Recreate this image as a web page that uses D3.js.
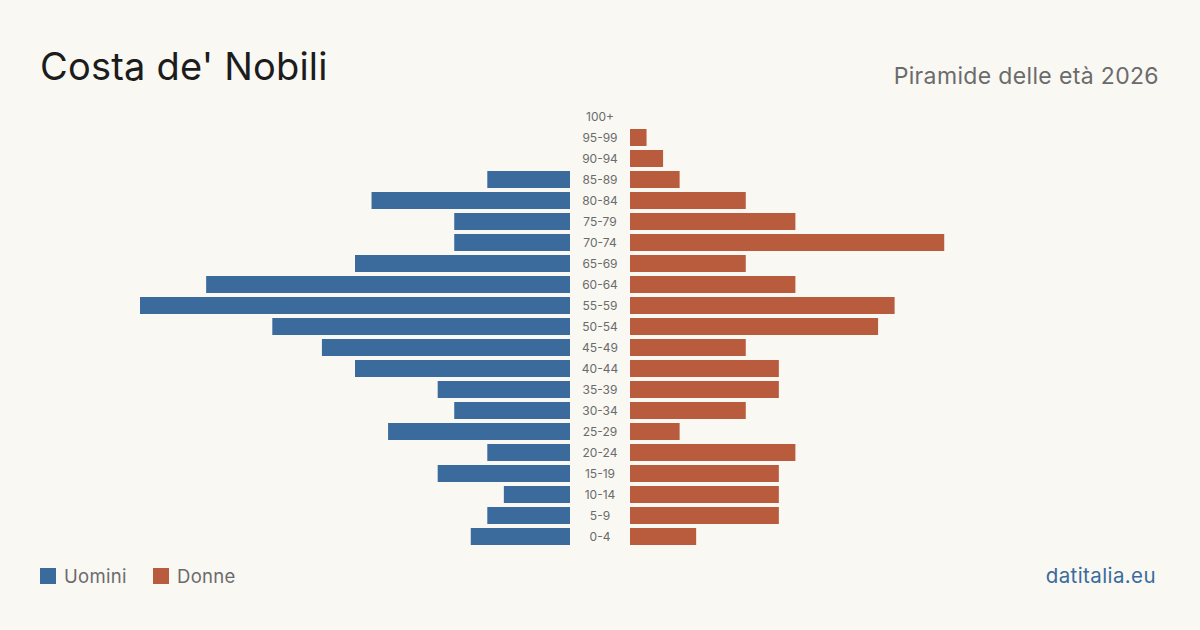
<!DOCTYPE html>
<html>
<head>
<meta charset="utf-8">
<script src="https://cdn.jsdelivr.net/npm/d3@7"></script>
<style>
  html, body { margin: 0; padding: 0; background: #f9f8f3; }
  svg { display: block; font-family: Inter, "Noto Sans", sans-serif; }
</style>
</head>
<body>
<script>
// age groups, youngest last so 100+ sits on top
const ageGroups = ["100+", "95-99", "90-94", "85-89", "80-84", "75-79", "70-74", "65-69",
  "60-64", "55-59", "50-54", "45-49", "40-44", "35-39", "30-34", "25-29",
  "20-24", "15-19", "10-14", "5-9", "0-4"];
const uomini = [0, 0, 0, 5, 12, 7, 7, 13, 22, 26, 18, 15, 13, 8, 7, 11, 5, 8, 4, 5, 6];
const donne  = [0, 1, 2, 3, 7, 10, 19, 7, 10, 16, 15, 7, 9, 9, 7, 3, 10, 9, 9, 9, 4];

const W = 1200, H = 630;
const blue = "#3a6b9c", red = "#b95c3d";

const svg = d3.select("body").append("svg")
  .attr("width", W).attr("height", H)
  .style("background", "#f9f8f3");

const maxV = d3.max(uomini.concat(donne));

const y = d3.scaleBand().domain(ageGroups).range([106, 547]).paddingInner(4 / 21).paddingOuter(2 / 21);
const xL = d3.scaleLinear().domain([0, maxV]).range([570, 140]);
const xR = d3.scaleLinear().domain([0, maxV]).range([630, 1060]);

svg.append("g").selectAll("rect")
  .data(ageGroups)
  .join("rect")
  .attr("x", (d, i) => xL(uomini[i]))
  .attr("y", d => y(d))
  .attr("width", (d, i) => xL(0) - xL(uomini[i]))
  .attr("height", y.bandwidth())
  .attr("fill", blue);

svg.append("g").selectAll("rect")
  .data(ageGroups)
  .join("rect")
  .attr("x", xR(0))
  .attr("y", d => y(d))
  .attr("width", (d, i) => xR(donne[i]) - xR(0))
  .attr("height", y.bandwidth())
  .attr("fill", red);

svg.append("g").selectAll("text")
  .data(ageGroups)
  .join("text")
  .attr("x", 600)
  .attr("y", d => y(d) + y.bandwidth() / 2)
  .attr("dy", "0.35em")
  .attr("text-anchor", "middle")
  .attr("font-size", 12)
  .attr("fill", "#6b6b6b")
  .text(d => d);

// titles
svg.append("text").attr("x", 40).attr("y", 80)
  .attr("font-size", 38).attr("letter-spacing", 0.2).attr("fill", "#1c1c1c").text("Costa de' Nobili");
svg.append("text").attr("x", 1159).attr("y", 84).attr("text-anchor", "end")
  .attr("font-size", 23).attr("letter-spacing", 0.35).attr("fill", "#6b6b6b").text("Piramide delle età 2026");

// legend
const legend = [{ k: "Uomini", c: blue, x: 40 }, { k: "Donne", c: red, x: 153 }];
const lg = svg.append("g").selectAll("g").data(legend).join("g");
lg.append("rect").attr("x", d => d.x).attr("y", 568).attr("width", 16).attr("height", 16).attr("fill", d => d.c);
lg.append("text").attr("x", d => d.x + 24).attr("y", 583)
  .attr("font-size", 18.5).attr("letter-spacing", 0.3).attr("fill", "#6b6b6b").text(d => d.k);

svg.append("text").attr("x", 1156).attr("y", 583).attr("text-anchor", "end")
  .attr("font-size", 20.5).attr("letter-spacing", 0.4).attr("fill", blue).text("datitalia.eu");
</script>
</body>
</html>
